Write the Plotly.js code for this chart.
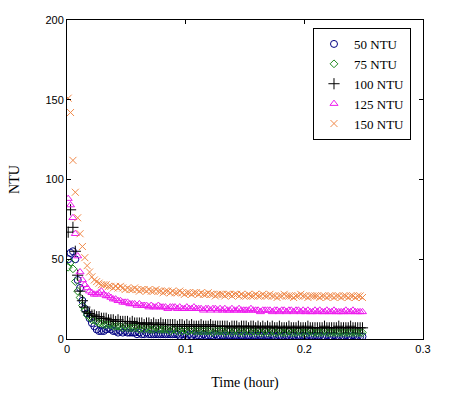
<!DOCTYPE html>
<html>
<head>
<meta charset="utf-8">
<script src="https://cdn.plot.ly/plotly-3.0.1.min.js"></script>
<style>html,body{margin:0;padding:0;background:#fff;}#chart{width:476px;height:419px;}</style>
</head>
<body>
<div id="chart"></div>
<script>
// Time (hour)
var time = [0.001,0.003,0.005,0.007,0.009,0.011,0.013,0.015,0.017,0.019,0.021,0.023,0.025,0.027,0.029,
  0.031,0.033,0.035,0.037,0.039,0.041,0.043,0.045,0.047,0.049,
  0.051,0.053,0.055,0.057,0.059,0.061,0.063,0.065,0.067,0.069,
  0.071,0.073,0.075,0.077,0.079,0.081,0.083,0.085,0.087,0.089,
  0.091,0.093,0.095,0.097,0.099,0.101,0.103,0.105,0.107,0.109,
  0.111,0.113,0.115,0.117,0.119,0.121,0.123,0.125,0.127,0.129,
  0.131,0.133,0.135,0.137,0.139,0.141,0.143,0.145,0.147,0.149,
  0.151,0.153,0.155,0.157,0.159,0.161,0.163,0.165,0.167,0.169,
  0.171,0.173,0.175,0.177,0.179,0.181,0.183,0.185,0.187,0.189,
  0.191,0.193,0.195,0.197,0.199,0.201,0.203,0.205,0.207,0.209,
  0.211,0.213,0.215,0.217,0.219,0.221,0.223,0.225,0.227,0.229,
  0.231,0.233,0.235,0.237,0.239,0.241,0.243,0.245,0.247,0.249];

// NTU readings per initial turbidity
var ntu50 = [50,54,55,50,37,32,24,19,16,13,10,8,6,5,5,
  5,6,7,6,5,5,4,5,4,5,
  4,4,4,4,3,4,3,3,4,3,
  3,3,3,3,3,3,3,3,3,3,
  3,3,2,3,3,2,3,2,3,2,
  2,2,3,2,2,2,2,3,2,2,
  2,2,2,2,2,2,2,2,2,2,
  2,2,2,2,2,2,2,2,2,2,
  2,2,1.5,2,2,1.5,2,2,1.5,2,
  2,1.5,2,1.5,2,1.5,2,2,1.5,2,
  1.5,2,1.5,1.5,2,1.5,1.5,2,1.5,1.5,
  1.5,1.5,2,1.5,1.5,2,1.5,1.5,1.5,1.5];
var ntu75 = [45,48,44,36,30,26,21,18,15,14,12,12,11,10,10,
  9,9,9,9,8,8,8,8,7,8,
  7,7,7,7,7,6,7,6,7,6,
  6,6,7,6,6,6,6,6,5,6,
  6,5,6,5,6,5,5,6,5,5,
  5,5,5,5,5,5,4,5,5,5,
  5,4,5,5,4,5,5,4,5,4,
  5,5,4,5,4,5,4,4,5,4,
  4,5,4,4,5,4,4,4,5,4,
  4,4,5,4,4,4,4,5,4,4,
  4,4,4,5,4,4,4,4,4,4,
  4,4,4,4,4,4,4,4,4,4];
var ntu100 = [67,81,70,55,40,30,24,20,17,16,15,15,14,14,13,
  13,13,12,12,12,11,12,11,11,11,
  11,10,11,10,10,10,10,9,10,10,
  9,10,9,9,10,9,9,9,9,9,
  9,8,9,9,8,9,8,9,8,8,
  8,9,8,8,8,9,8,8,8,8,
  8,8,8,7,8,8,8,7,8,8,
  8,7,8,8,7,8,7,8,7,8,
  7,8,7,7,8,7,7,7,8,7,
  7,7,8,7,7,7,8,7,7,7,
  7,7,7,8,7,7,7,7,7,8,
  7,7,7,7,8,7,7,7,7,7];
var ntu125 = [88,84,76,66,52,42,37,34,32,30,29,28,28,29,30,
  28,27,27,26,25,25,24,24,23,23,
  23,22,22,22,21,22,21,21,21,20,
  21,20,20,21,20,20,20,19,20,20,
  20,19,20,19,19,20,19,19,20,19,
  19,19,18,19,19,18,19,19,18,19,
  18,19,18,18,19,18,18,19,18,18,
  18,18,19,18,18,18,17,18,18,18,
  18,17,18,18,17,18,18,17,18,18,
  17,18,18,17,18,17,18,17,17,18,
  17,18,17,17,18,17,17,18,17,17,
  17,17,18,17,17,18,17,17,17,17];
var ntu150 = [151,142,112,92,76,66,58,51,46,42,39,37,36,35,34,
  34,34,33,33,32,33,32,33,32,31,
  32,31,31,32,31,30,31,31,30,31,
  30,30,31,30,30,29,30,30,29,30,
  29,29,30,29,28,29,29,28,29,29,
  28,29,28,28,29,28,28,27,28,28,
  28,27,28,28,27,28,28,27,28,27,
  27,28,27,27,28,27,27,28,27,27,
  28,27,27,26,27,27,28,27,27,27,
  26,27,27,28,27,27,26,27,27,27,
  27,26,27,27,26,27,27,26,27,27,
  26,27,27,26,27,27,26,27,27,26];

var seriesNames = ['50 NTU','75 NTU','100 NTU','125 NTU','150 NTU'];
var xTickVals = [0,0.1,0.2,0.3];
var xTickText = ['0','0.1','0.2','0.3'];
var yTickVals = [0,50,100,150,200];

var values = [ntu50, ntu75, ntu100, ntu125, ntu150];
var colors = ['#000080','#1F8A1F','#000000','#EE1CEE','#F08A4B'];
var symbols = ['circle-open','diamond-open','cross-thin-open','triangle-up-open','x-thin-open'];
var sizes = [7,6,8,7,7];

var traces = values.map(function(v,i){
  return {
    x: time, y: v, name: seriesNames[i], type: 'scatter', mode: 'markers',
    marker: {symbol: symbols[i], color: colors[i], size: sizes[i], line: {color: colors[i], width: 1}}
  };
});

var layout = {
  width: 476, height: 419,
  margin: {l: 67, r: 53, t: 20, b: 80, pad: 0},
  paper_bgcolor: '#fff', plot_bgcolor: '#fff',
  showlegend: true,
  legend: {
    x: 0.691, y: 0.975, xanchor: 'left', yanchor: 'top',
    bgcolor: '#fff', bordercolor: '#000', borderwidth: 1,
    font: {family: 'Liberation Serif', size: 13, color: '#000'},
    tracegroupgap: 0
  },
  xaxis: {
    range: [0, 0.3], tickvals: xTickVals, ticktext: xTickText,
    showgrid: false, zeroline: false, showline: true, linecolor: '#000', linewidth: 1,
    mirror: 'ticks', ticks: 'inside', ticklen: 4, tickcolor: '#000',
    tickfont: {family: 'Liberation Sans', size: 11, color: '#000'},
    title: {text: 'Time (hour)', font: {family: 'Liberation Serif', size: 14, color: '#000'}, standoff: 22}
  },
  yaxis: {
    range: [0, 200], tickvals: yTickVals,
    showgrid: false, zeroline: false, showline: true, linecolor: '#000', linewidth: 1,
    mirror: 'ticks', ticks: 'inside', ticklen: 4, tickcolor: '#000',
    tickfont: {family: 'Liberation Sans', size: 11, color: '#000'},
    title: {text: 'NTU', font: {family: 'Liberation Serif', size: 14, color: '#000'}, standoff: 22}
  }
};

Plotly.newPlot('chart', traces, layout, {displayModeBar: false, staticPlot: true});
</script>
</body>
</html>
